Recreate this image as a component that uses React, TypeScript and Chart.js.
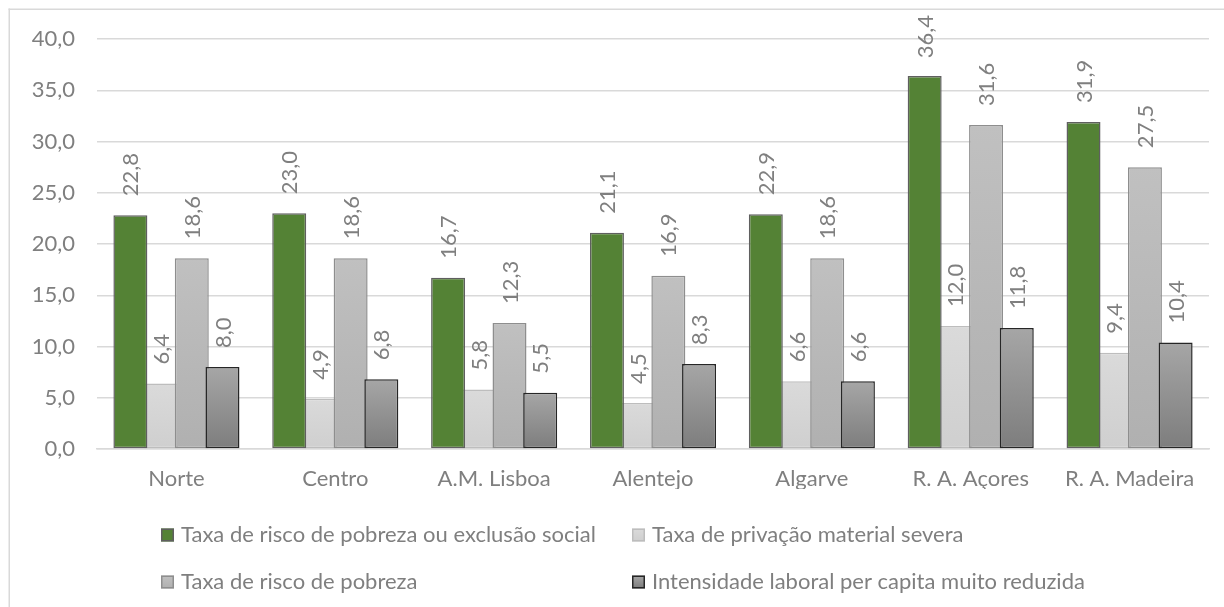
import React, { useEffect, useRef } from "react";
import { Chart, registerables } from "chart.js";

Chart.register(...registerables);

// Regions (NUTS II) and indicator values, %
const regions = ["Norte", "Centro", "A.M. Lisboa", "Alentejo", "Algarve", "R. A. Açores", "R. A. Madeira"];
const riscoPobrezaExclusao = [22.8, 23.0, 16.7, 21.1, 22.9, 36.4, 31.9];
const privacaoMaterialSevera = [6.4, 4.9, 5.8, 4.5, 6.6, 12.0, 9.4];
const riscoPobreza = [18.6, 18.6, 12.3, 16.9, 18.6, 31.6, 27.5];
const intensidadeLaboral = [8.0, 6.8, 5.5, 8.3, 6.6, 11.8, 10.4];
const seriesNames = [
  "Taxa de risco de pobreza ou exclusão social",
  "Taxa de privação material severa",
  "Taxa de risco de pobreza",
  "Intensidade laboral per capita muito reduzida",
];
const yMin = 0;
const yMax = 40;
const yStep = 5;

const FONT = "Lato";
const FONT_SIZE = 22;
const TEXT = "#7f7f7f";
const GRID = "#d9d9d9";

const fmt = (v: number) => v.toFixed(1).replace(".", ",");

type Style = { top: string; bottom: string; border: string };
const styles: Style[] = [
  { top: "#548235", bottom: "#548235", border: "#5f5f5f" },
  { top: "#dadada", bottom: "#cfcfcf", border: "#bdbdbd" },
  { top: "#c0c0c0", bottom: "#b0b0b0", border: "#8e8e8e" },
  { top: "#a6a6a6", bottom: "#7d7d7d", border: "#262626" },
];

function barFill(s: Style) {
  return (ctx: any) => {
    const chart = ctx.chart;
    const y = chart.scales?.y;
    if (!chart.chartArea || !y || ctx.type !== "data") return s.top;
    const y0 = y.getPixelForValue(ctx.raw);
    const y1 = y.getPixelForValue(0);
    if (!isFinite(y0) || !isFinite(y1) || y0 === y1) return s.top;
    const g = chart.ctx.createLinearGradient(0, y0, 0, y1);
    g.addColorStop(0, s.top);
    g.addColorStop(1, s.bottom);
    return g;
  };
}

// Light series sits beneath its neighbours; later series overlap earlier ones
const drawOrderPlugin = {
  id: "drawOrder",
  beforeDatasetsDraw(chart: any) {
    for (const i of [1, 0, 2, 3]) {
      const meta = chart.getDatasetMeta(i);
      if (meta && meta.controller) meta.controller.draw();
    }
    return false;
  },
};

const framePlugin = {
  id: "frame",
  beforeDraw(chart: any) {
    const c = chart.ctx;
    c.save();
    c.fillStyle = "#ffffff";
    c.fillRect(0, 0, chart.width, chart.height);
    c.fillStyle = GRID;
    c.fillRect(8.5, 8.5, chart.width, 1.5);
    c.fillRect(8.5, 8.5, 1.5, chart.height);
    c.restore();
  },
};

const labelsPlugin = {
  id: "valueLabels",
  afterDraw(chart: any) {
    const c = chart.ctx;
    c.save();
    c.font = `${FONT_SIZE}px ${FONT}`;
    c.fillStyle = TEXT;
    c.textAlign = "left";
    c.textBaseline = "middle";
    chart.data.datasets.forEach((ds: any, i: number) => {
      const meta = chart.getDatasetMeta(i);
      meta.data.forEach((el: any, j: number) => {
        const text = fmt(ds.data[j]);
        const w = c.measureText(text).width;
        // keep the label inside the frame when the bar is tall
        const start = Math.max(el.y - 19, 15 + w);
        c.save();
        c.translate(el.x + 1, start);
        c.rotate(-Math.PI / 2);
        c.fillText(text, 0, 0);
        c.restore();
      });
    });

    // legend, two columns by two rows
    const cols = [161, 632];
    const rows = [535, 582];
    seriesNames.forEach((name, i) => {
      const x = cols[i % 2];
      const y = rows[Math.floor(i / 2)];
      const s = styles[i];
      const g = c.createLinearGradient(0, y - 6, 0, y + 6);
      g.addColorStop(0, s.top);
      g.addColorStop(1, s.bottom);
      c.fillStyle = g;
      c.fillRect(x, y - 6.5, 13, 13);
      c.strokeStyle = s.border;
      c.lineWidth = 1.5;
      c.strokeRect(x + 0.75, y - 5.75, 11.5, 11.5);
      c.fillStyle = TEXT;
      c.fillText(name, x + 20, y);
    });
    c.restore();
  },
};

const datasetValues = [riscoPobrezaExclusao, privacaoMaterialSevera, riscoPobreza, intensidadeLaboral];

export default function App() {
  const ref = useRef<HTMLCanvasElement | null>(null);

  useEffect(() => {
    if (!ref.current) return;
    const chart = new Chart(ref.current, {
      type: "bar",
      data: {
        labels: regions,
        datasets: datasetValues.map((vals, i) => ({
          label: seriesNames[i],
          data: vals,
          backgroundColor: barFill(styles[i]),
          borderColor: styles[i].border,
          borderWidth: 1.5,
          borderSkipped: false,
          categoryPercentage: 0.773,
          barPercentage: 1.107,
        })),
      },
      options: {
        responsive: false,
        animation: false,
        layout: { padding: { top: 39, right: 15, bottom: 118, left: 0 } },
        plugins: {
          legend: { display: false },
          tooltip: { enabled: false },
        },
        scales: {
          x: {
            grid: { display: false, drawTicks: false },
            border: { display: true, color: GRID, width: 1.5 },
            ticks: { color: TEXT, font: { family: FONT, size: FONT_SIZE }, padding: 17, maxRotation: 0 },
            afterFit: (s: any) => {
              s.height = 40;
            },
          },
          y: {
            min: yMin,
            max: yMax,
            grid: { color: GRID, lineWidth: 1.5, drawTicks: false },
            border: { display: false },
            ticks: {
              stepSize: yStep,
              color: TEXT,
              font: { family: FONT, size: FONT_SIZE },
              padding: 22,
              callback: (v: any) => fmt(Number(v)),
            },
            afterFit: (s: any) => {
              s.width = 97;
            },
          },
        },
      },
      plugins: [framePlugin, drawOrderPlugin, labelsPlugin],
    });
    return () => chart.destroy();
  }, []);

  return (
    <div style={{ position: "absolute", left: 0, top: 0, width: 1224, height: 607 }}>
      <canvas ref={ref} width={1224} height={607} style={{ display: "block" }} />
    </div>
  );
}
